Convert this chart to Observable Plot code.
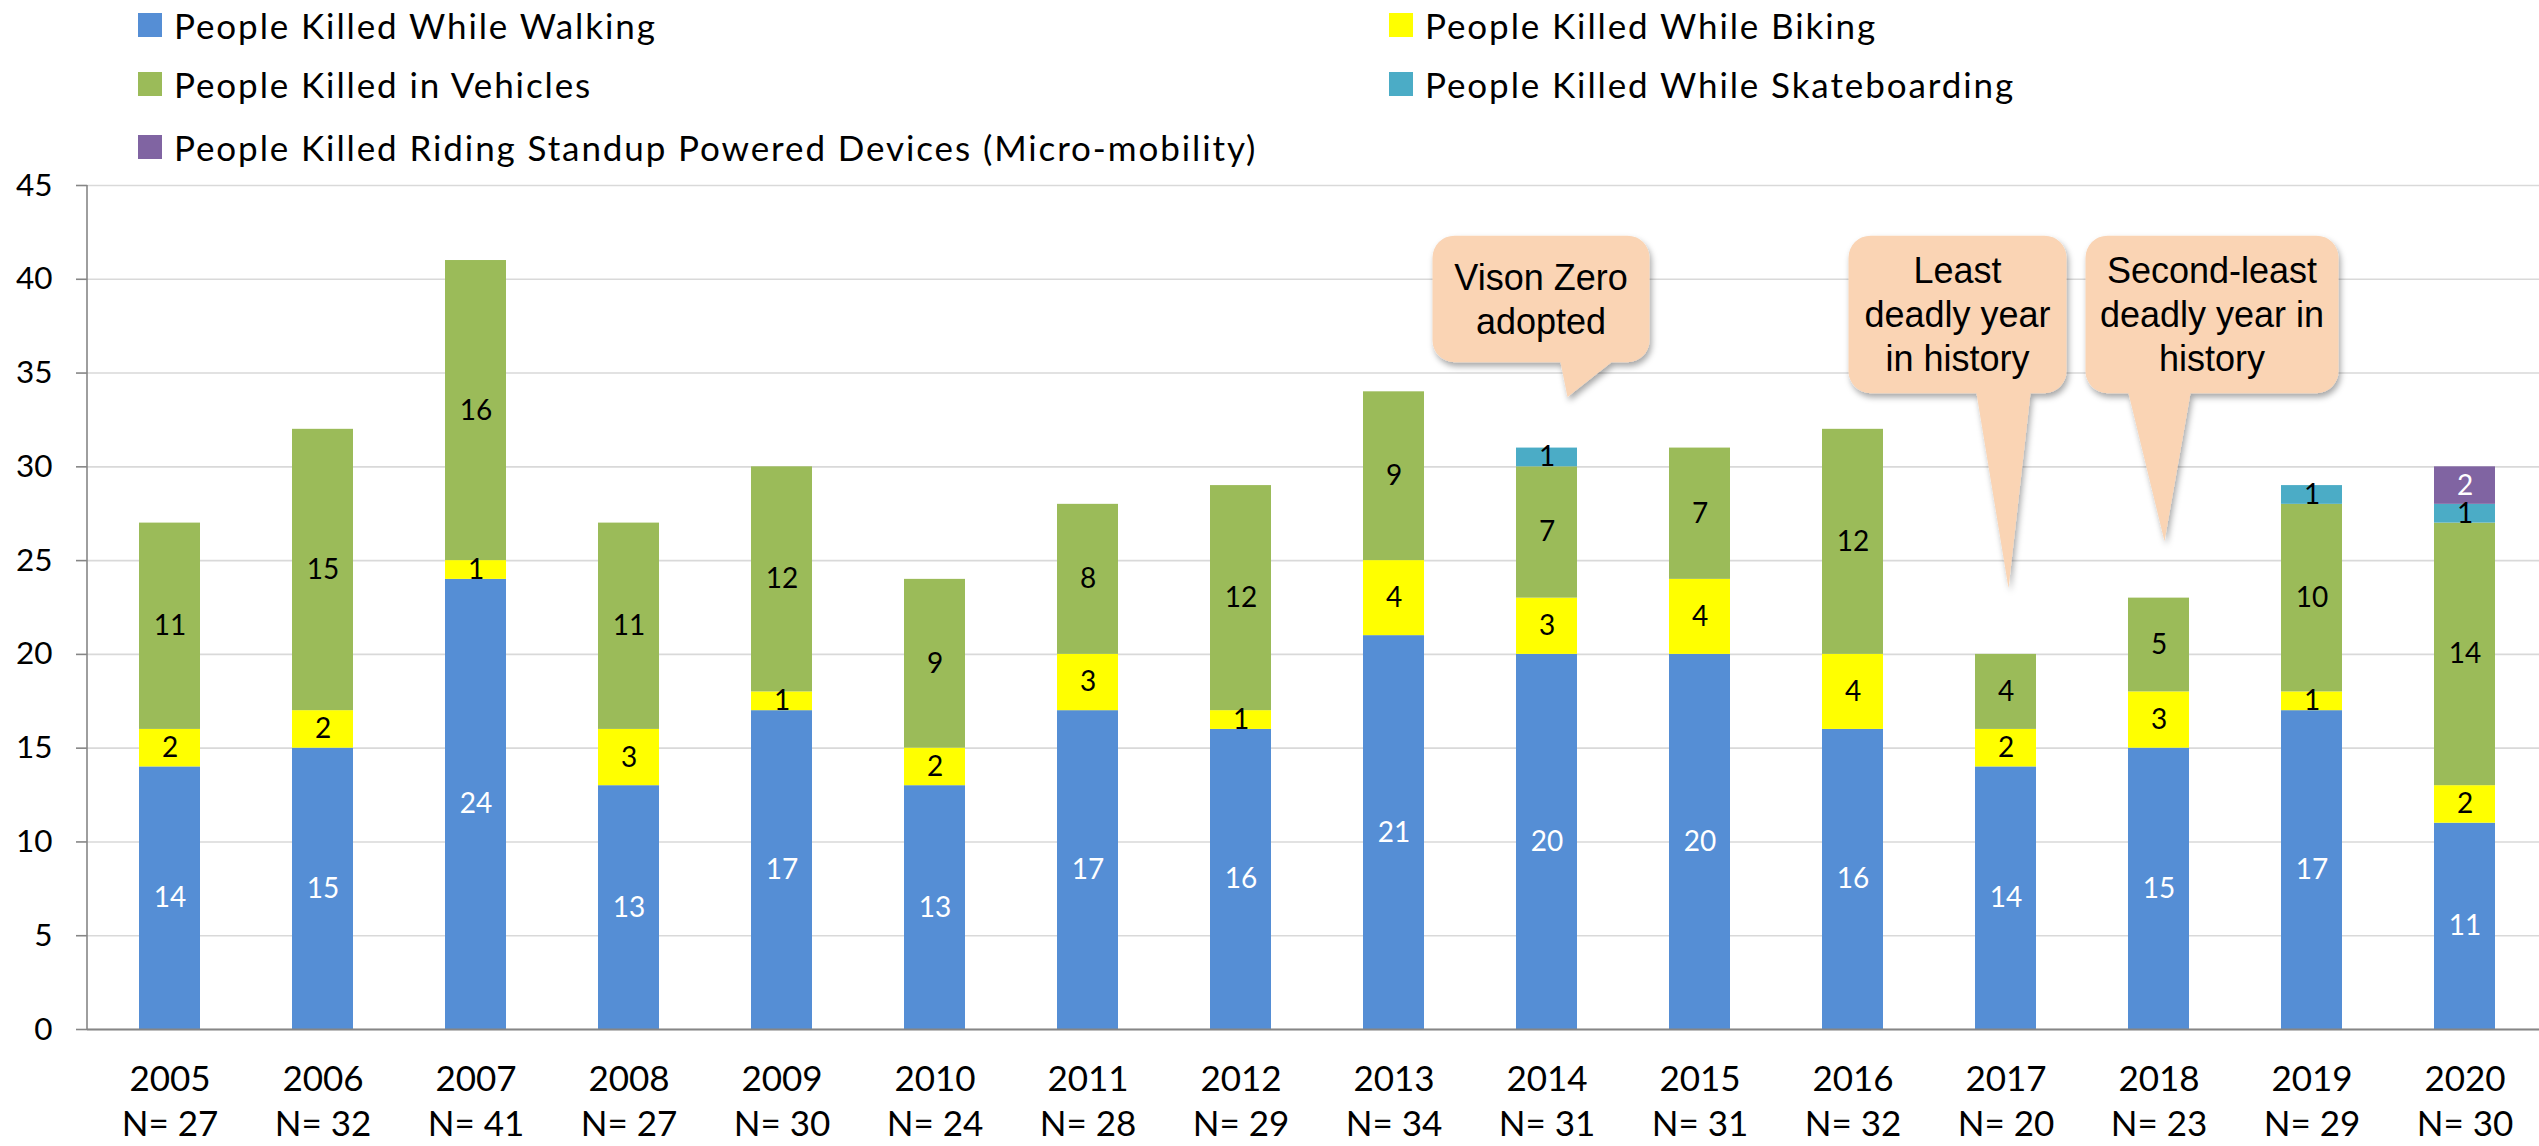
<!DOCTYPE html>
<html>
<head>
<meta charset="utf-8">
<script src="https://cdn.jsdelivr.net/npm/d3@7"></script>
<script src="https://cdn.jsdelivr.net/npm/@observablehq/plot@0.6"></script>
<style>
  html, body { margin: 0; padding: 0; background: #fff; }
  #wrap { position: relative; width: 2539px; height: 1146px; overflow: hidden; font-family: Lato, sans-serif; }
  #legend { position: relative; height: 165px; }
  .li { position: absolute; display: flex; align-items: center; height: 40px; font-size: 35px; letter-spacing: 1.9px; color: #000; white-space: nowrap; }
  .sw { width: 24px; height: 24px; margin-right: 12px; flex: none; }
  #chart svg { display: block; overflow: visible; }
</style>
</head>
<body>
<div id="wrap">
  <div id="legend"></div>
  <div id="chart"></div>
</div>
<script>
// ---------------- data ----------------
const years = [2005, 2006, 2007, 2008, 2009, 2010, 2011, 2012, 2013, 2014, 2015, 2016, 2017, 2018, 2019, 2020];
const walking       = [14, 15, 24, 13, 17, 13, 17, 16, 21, 20, 20, 16, 14, 15, 17, 11];
const biking        = [ 2,  2,  1,  3,  1,  2,  3,  1,  4,  3,  4,  4,  2,  3,  1,  2];
const vehicles      = [11, 15, 16, 11, 12,  9,  8, 12,  9,  7,  7, 12,  4,  5, 10, 14];
const skateboarding = [ 0,  0,  0,  0,  0,  0,  0,  0,  0,  1,  0,  0,  0,  0,  1,  1];
const micromobility = [ 0,  0,  0,  0,  0,  0,  0,  0,  0,  0,  0,  0,  0,  0,  0,  2];
const totals        = [27, 32, 41, 27, 30, 24, 28, 29, 34, 31, 31, 32, 20, 23, 29, 30];
const seriesNames = [
  "People Killed While Walking",
  "People Killed While Biking",
  "People Killed in Vehicles",
  "People Killed While Skateboarding",
  "People Killed Riding Standup Powered Devices (Micro-mobility)"
];
const seriesValues = [walking, biking, vehicles, skateboarding, micromobility];
const yTicks = [0, 5, 10, 15, 20, 25, 30, 35, 40, 45];
const calloutYears = [2014, 2017, 2018];
const calloutTexts = [["Vison Zero", "adopted"], ["Least", "deadly year", "in history"], ["Second-least", "deadly year in", "history"]];

// ---------------- styles / layout ----------------
const seriesColors = ["#558ED5", "#FFFF00", "#9BBB59", "#4BACC6", "#8064A2"];
const whiteLabelSeries = [seriesNames[0], seriesNames[4]];
const legendOrder = [0, 1, 2, 3, 4];
const legendPos = [[138, 5], [1389, 5], [138, 64], [1389, 64], [138, 127]];
// box left/right offsets (px from band centre), top/bottom/tip in y units, pointer base offsets and tip offset (px)
const calloutLayout = {
  2014: {left: -114, right: 103, top: 42.3, bottom: 35.55, base: [14, 65], tipDx: 21, tip: 33.7},
  2017: {left: -157, right: 61, top: 42.3, bottom: 33.9, base: [-29, 25], tipDx: 3, tip: 23.5},
  2018: {left: -73, right: 180, top: 42.3, bottom: 33.9, base: [-30, 32], tipDx: 6, tip: 26.0}
};

// ---------------- legend ----------------
const legend = document.getElementById("legend");
legendOrder.forEach((si, k) => {
  const d = document.createElement("div");
  d.className = "li";
  d.style.left = legendPos[k][0] + "px";
  d.style.top = legendPos[k][1] + "px";
  const sw = document.createElement("span");
  sw.className = "sw";
  sw.style.background = seriesColors[si];
  d.appendChild(sw);
  d.appendChild(document.createTextNode(seriesNames[si]));
  legend.appendChild(d);
});

// ---------------- long table ----------------
const long = [];
years.forEach((yr, i) => {
  seriesNames.forEach((s, j) => {
    const v = seriesValues[j][i];
    if (v > 0) long.push({year: yr, series: s, value: v});
  });
});

function overlay(...args) {
  const scales = args.find(a => a && !Array.isArray(a) && typeof a.x === "function" && typeof a.y === "function");
  const dims = args.find(a => a && a.marginLeft !== undefined && a.width !== undefined);
  const X = scales.x, Y = scales.y;
  const bw = typeof X.bandwidth === "function" ? X.bandwidth() : (X.bandwidth || 0);
  const g = d3.create("svg:g");
  // y axis line
  g.append("line")
    .attr("x1", dims.marginLeft).attr("x2", dims.marginLeft)
    .attr("y1", Y(45)).attr("y2", Y(0))
    .attr("stroke", "#868686").attr("stroke-width", 1.6);
  // shadow filter
  const defs = g.append("defs");
  const f = defs.append("filter").attr("id", "cshadow").attr("x", "-20%").attr("y", "-20%").attr("width", "140%").attr("height", "140%");
  f.append("feDropShadow").attr("dx", 2).attr("dy", 4).attr("stdDeviation", 3)
    .attr("flood-color", "#000").attr("flood-opacity", 0.35);
  calloutYears.forEach((yr, i) => {
    const L = calloutLayout[yr];
    const cx = X(yr) + bw / 2;
    const l = cx + L.left, r = cx + L.right, t = Y(L.top), b = Y(L.bottom);
    const rad = 22;
    const b1 = cx + L.base[0], b2 = cx + L.base[1];
    const tx = cx + L.tipDx, ty = Y(L.tip);
    const p = d3.path();
    p.moveTo(l + rad, t);
    p.lineTo(r - rad, t);
    p.arcTo(r, t, r, t + rad, rad);
    p.lineTo(r, b - rad);
    p.arcTo(r, b, r - rad, b, rad);
    p.lineTo(b2, b);
    p.lineTo(tx, ty);
    p.lineTo(b1, b);
    p.lineTo(l + rad, b);
    p.arcTo(l, b, l, b - rad, rad);
    p.lineTo(l, t + rad);
    p.arcTo(l, t, l + rad, t, rad);
    p.closePath();
    g.append("path").attr("d", p.toString()).attr("fill", "#FAD4B4").attr("filter", "url(#cshadow)");
    const lines = calloutTexts[i];
    const fs = 36, lh = 44;
    const mid = (t + b) / 2, tcx = (l + r) / 2;
    lines.forEach((ln, k) => {
      g.append("text")
        .attr("x", tcx)
        .attr("y", mid + (k - (lines.length - 1) / 2) * lh + fs * 0.36)
        .attr("text-anchor", "middle")
        .attr("font-family", "'Liberation Sans', Arial, sans-serif")
        .attr("font-size", fs)
        .attr("fill", "#000")
        .text(ln);
    });
  });
  return g.node();
}

const chart = Plot.plot({
  width: 2539,
  height: 981,
  marginLeft: 87,
  marginRight: 0,
  marginTop: 20,
  marginBottom: 117,
  style: {fontFamily: "Lato, sans-serif", background: "transparent", overflow: "visible"},
  x: {type: "band", domain: years, range: [87, 2548], paddingInner: 0.6, paddingOuter: 0.3, align: 0.5},
  y: {domain: [0, 45]},
  color: {domain: seriesNames, range: seriesColors},
  marks: [
    Plot.gridY(yTicks, {stroke: "#d9d9d9", strokeOpacity: 1, strokeWidth: 1.6}),
    Plot.barY(long, {x: "year", y: "value", fill: "series"}),
    Plot.text(long, Plot.stackY({x: "year", y: "value", z: "series",
      text: d => whiteLabelSeries.includes(d.series) ? String(d.value) : "",
      fill: "white", fontSize: 28})),
    Plot.text(long, Plot.stackY({x: "year", y: "value", z: "series",
      text: d => whiteLabelSeries.includes(d.series) ? "" : String(d.value),
      fill: "black", fontSize: 28})),
    Plot.ruleY([0], {stroke: "#868686", strokeWidth: 1.8}),
    Plot.axisY(yTicks, {tickSize: 11, tickPadding: 24, fontSize: 31.5, stroke: "#868686", strokeWidth: 1.6, label: null}),
    Plot.axisX({tickSize: 0, tickPadding: 29, fontSize: 35, lineHeight: 1.3, label: null,
      tickFormat: d => `${d}\nN= ${totals[years.indexOf(d)]}`}),
    overlay
  ]
});
document.getElementById("chart").appendChild(chart);
</script>
</body>
</html>
